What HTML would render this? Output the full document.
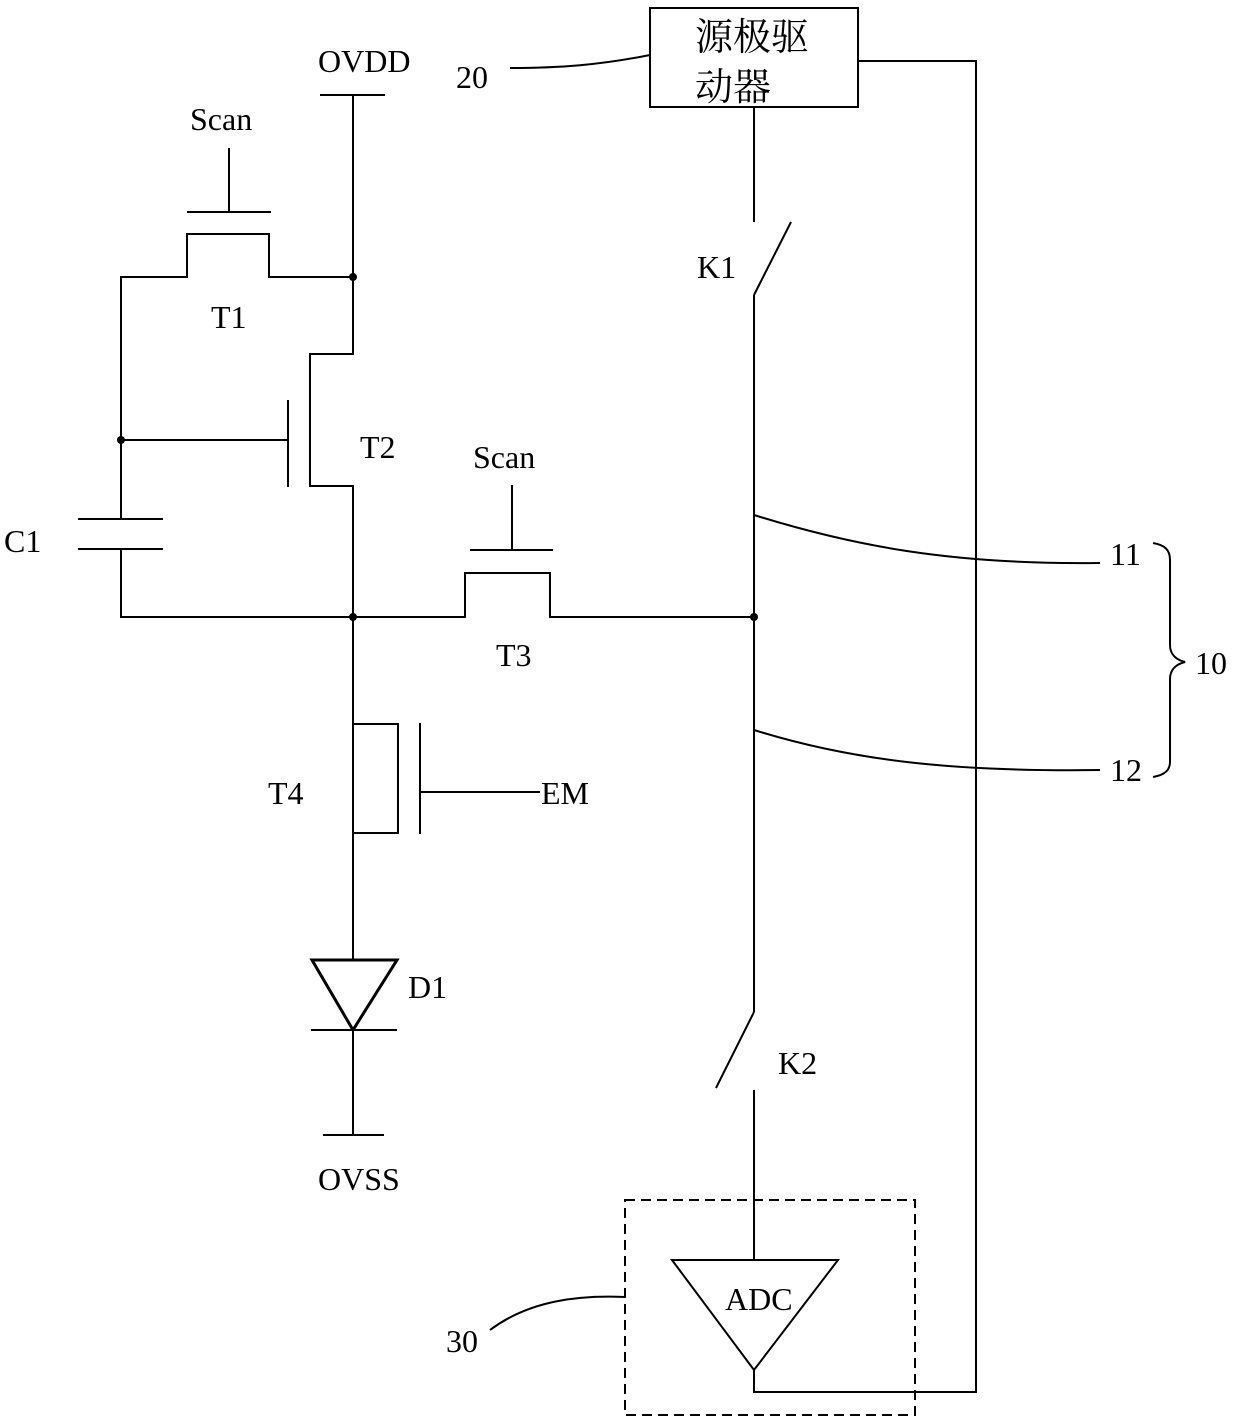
<!DOCTYPE html>
<html><head><meta charset="utf-8"><style>
html,body{margin:0;padding:0;background:#fff}
svg{display:block}
text{font-family:"Liberation Serif","Noto Serif CJK SC",serif;font-size:32px;fill:#000}
text.cjk{font-size:38px}
</style></head><body>
<svg width="1240" height="1422" viewBox="0 0 1240 1422" xmlns="http://www.w3.org/2000/svg">
<g stroke="#000" stroke-width="2" fill="none">
<line x1="320" y1="95" x2="385" y2="95"/>
<polyline points="353,95 353,354 310,354 310,486 353,486 353,960"/>
<line x1="288" y1="400" x2="288" y2="487"/>
<line x1="121" y1="440" x2="288" y2="440"/>
<polyline points="353,277 269,277 269,234 187,234 187,277 121,277 121,519"/>
<line x1="187" y1="212" x2="271" y2="212"/>
<line x1="229" y1="148" x2="229" y2="212"/>
<line x1="78" y1="519" x2="163" y2="519"/>
<line x1="78" y1="549" x2="163" y2="549"/>
<polyline points="121,549 121,617 465,617 465,573 550,573 550,617 754,617"/>
<line x1="470" y1="550" x2="553" y2="550"/>
<line x1="512" y1="485" x2="512" y2="550"/>
<polyline points="353,724 398,724 398,833 353,833"/>
<line x1="420" y1="723" x2="420" y2="834"/>
<line x1="420" y1="792" x2="540" y2="792"/>
<polygon points="312,960 397,960 353,1030" stroke-width="3"/>
<line x1="311" y1="1030" x2="397" y2="1030"/>
<line x1="353" y1="1030" x2="353" y2="1135"/>
<line x1="323" y1="1135" x2="384" y2="1135"/>
<rect x="650" y="8" width="208" height="99"/>
<line x1="754" y1="107" x2="754" y2="222"/>
<line x1="754" y1="295" x2="791" y2="222"/>
<line x1="754" y1="295" x2="754" y2="1012"/>
<line x1="754" y1="1012" x2="716" y2="1088"/>
<line x1="754" y1="1090" x2="754" y2="1260"/>
<polyline points="858,61 976,61 976,1392 754,1392 754,1370"/>
<polygon points="672,1260 838,1260 754,1370"/>
<rect x="625" y="1200" width="290" height="215" stroke-dasharray="10,6"/>
<path d="M510,68 C560,68 600,65 650,55"/>
<path d="M490,1330 C530,1300 580,1295 625,1297"/>
<path d="M754,515 C850,545 950,565 1100,563"/>
<path d="M754,730 C850,760 950,772 1100,770"/>
<path d="M1153,543 C1165,545 1170,550 1170,560 L1170,645 C1170,655 1177,660 1185,662 C1177,664 1170,669 1170,679 L1170,762 C1170,770 1165,775 1153,777"/>
</g>
<g fill="#000">
<circle cx="353" cy="277" r="4"/>
<circle cx="121" cy="440" r="4"/>
<circle cx="353" cy="617" r="4"/>
<circle cx="754" cy="617" r="4"/>
</g>
<text x="318" y="72">OVDD</text>
<text x="190" y="130">Scan</text>
<text x="211" y="328">T1</text>
<text x="360" y="458">T2</text>
<text x="473" y="468">Scan</text>
<text x="4" y="552">C1</text>
<text x="496" y="666">T3</text>
<text x="268" y="804">T4</text>
<text x="541" y="804">EM</text>
<text x="408" y="998">D1</text>
<text x="318" y="1190">OVSS</text>
<text x="456" y="88">20</text>
<text x="697" y="278">K1</text>
<text x="778" y="1074">K2</text>
<text x="725" y="1310">ADC</text>
<text x="446" y="1352">30</text>
<text x="1110" y="565">11</text>
<text x="1110" y="781">12</text>
<text x="1195" y="674">10</text>
<text class="cjk" x="695" y="50">源极驱</text>
<text class="cjk" x="695" y="100">动器</text>
</svg>
</body></html>
